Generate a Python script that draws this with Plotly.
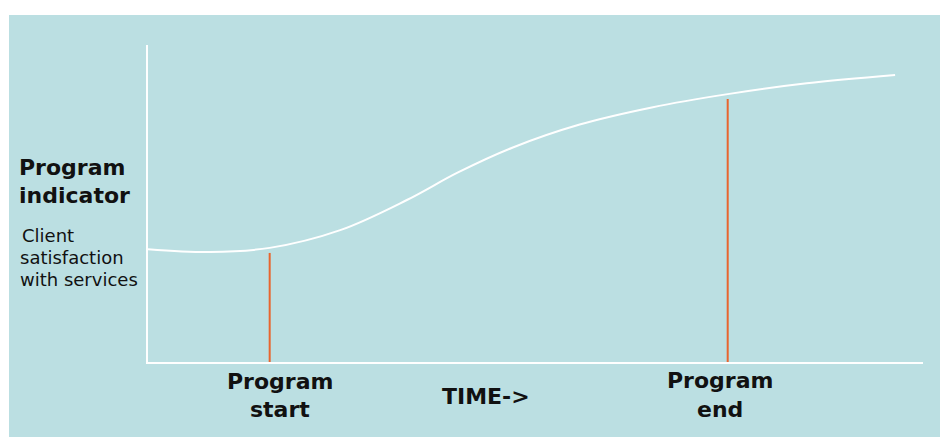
import plotly.graph_objects as go

# Program indicator (client satisfaction) over time, 0-100 scale on both axes
time_points = [0, 8.0, 15.7, 24.8, 33.4, 40.0, 47.0, 55.7, 65.0, 74.8, 85.0, 96.4]
indicator_values = [35.6, 34.7, 36.0, 41.6, 51.1, 59.8, 67.6, 74.9, 80.3, 84.5,
                    87.9, 90.5]

# Program milestones: time and height of the marker line
milestone_times = [15.7, 74.8]
milestone_heights = [34.4, 83.0]

BG = "#bbdfe2"
MARKER = "#e8652e"
FONT = "DejaVu Sans"

# Figure geometry (pixels)
W, H = 940, 437
L, R, T, B = 148, 17, 45, 75
PW, PH = W - L - R, H - T - B


def px(x):
    return (x - L) / PW


def py(y):
    return (H - B - y) / PH


fig = go.Figure()

fig.add_trace(go.Scatter(
    x=time_points, y=indicator_values, mode="lines",
    line=dict(color="white", width=2, shape="spline", smoothing=1),
    hoverinfo="skip", showlegend=False,
))

for t, h in zip(milestone_times, milestone_heights):
    fig.add_trace(go.Scatter(
        x=[t, t], y=[0, h], mode="lines",
        line=dict(color=MARKER, width=2),
        hoverinfo="skip", showlegend=False,
    ))

# light blue panel behind the chart
fig.add_shape(type="rect", xref="paper", yref="paper",
              x0=px(9), x1=px(W + 2), y0=py(H + 2), y1=py(15),
              fillcolor=BG, line=dict(width=0), layer="below")

labels = [
    # text, x, y (centre), anchor, size, bold
    ("Program", 17, 167.5, "left", 22, True),
    ("indicator", 17, 195.5, "left", 22, True),
    ("Client", 20, 235.5, "left", 18, False),
    ("satisfaction", 18, 257, "left", 18, False),
    ("with services", 18, 279, "left", 18, False),
    ("Program", 280, 381, "center", 22, True),
    ("start", 280, 409, "center", 22, True),
    ("Program", 719.5, 380.5, "center", 22, True),
    ("end", 719.5, 409, "center", 22, True),
    ("TIME->", 486, 396, "center", 22, True),
]

for text, x, y, anchor, size, bold in labels:
    fig.add_annotation(
        text=f"<b>{text}</b>" if bold else text,
        xref="paper", yref="paper", x=px(x), y=py(y),
        xanchor=anchor, yanchor="middle", showarrow=False,
        font=dict(family=FONT, size=size, color="#111111"),
    )

axis_common = dict(showgrid=False, zeroline=False, showticklabels=False,
                   ticks="", showline=True, linecolor="white", linewidth=2,
                   range=[0, 100], fixedrange=True)

fig.update_layout(
    width=W, height=H,
    margin=dict(l=L, r=R, t=T, b=B),
    paper_bgcolor="white",
    plot_bgcolor="rgba(0,0,0,0)",
    xaxis=axis_common,
    yaxis=axis_common,
    showlegend=False,
)

fig.write_html("out.html")
